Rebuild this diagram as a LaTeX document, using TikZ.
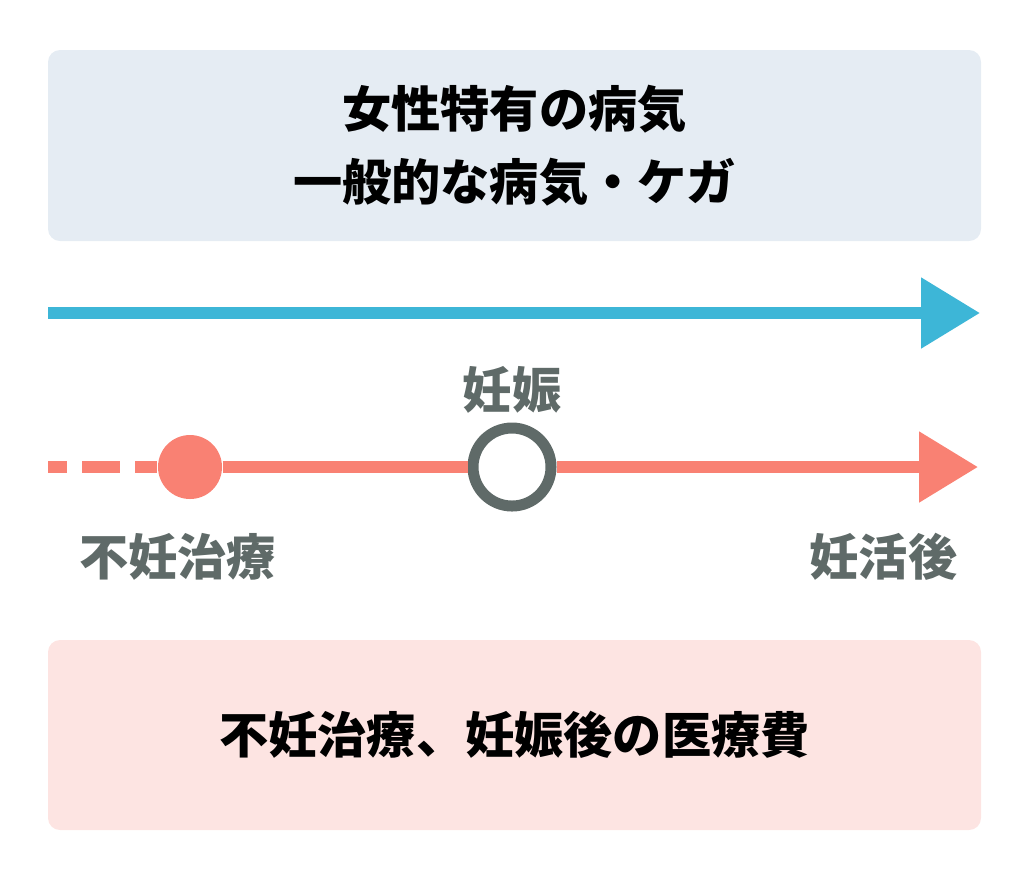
\documentclass[tikz,border=0pt]{standalone}
\usepackage{fontspec}
\usepackage{tikz}
\usetikzlibrary{arrows.meta}
\newfontfamily\cjk{Noto Sans CJK JP}
\definecolor{lineblue}{HTML}{3DB6D7}
\definecolor{linered}{HTML}{F98173}
\definecolor{labelgray}{HTML}{5F6A68}
\definecolor{boxblue}{HTML}{E5ECF3}
\definecolor{boxred}{HTML}{FDE4E2}
\tikzset{>={Triangle[length=0.59cm,width=0.68cm]}}

\begin{document}
\begin{tikzpicture}[font=\cjk\bfseries\fontsize{14pt}{20.8pt}\selectfont]
\useasboundingbox (0,0) rectangle (10.29,8.79);
% boxes
\begin{scope}[every node/.style={rounded corners=0.12cm,minimum width=9.33cm,inner sep=0pt,align=center}]
\node[fill=boxblue,minimum height=1.91cm] (top) at (5.145,7.335) {女性特有の病気\\一般的な病気・ケガ};
\node[fill=boxred,minimum height=1.90cm] (bottom) at (5.145,1.44) {不妊治療、妊娠後の医療費};
\end{scope}
% time lines
\coordinate (B0) at (0.48,5.66);
\coordinate (B1) at (9.80,5.66);
\coordinate (R0) at (0.48,4.12);
\coordinate (R1) at (9.78,4.12);
\begin{scope}[every node/.style={circle,inner sep=0pt}]
\node[fill=linered,minimum size=0.64cm] (ivf) at (1.90,4.12) {};
\node[draw=labelgray,line width=0.11cm,fill=white,minimum size=0.78cm] (preg) at (5.12,4.12) {};
\end{scope}
\begin{scope}[every node/.style={text=labelgray,inner sep=0pt}]
\node (pregl) at (5.12,4.89) {妊娠};
\node (ivfl) at (1.775,3.22) {不妊治療};
\node (afterl) at (8.835,3.22) {妊活後};
\end{scope}
\begin{scope}[line width=0.12cm]
\path [->] (B0) edge [lineblue] (B1);
\path [linered,dash pattern=on 0.38cm off 0.15cm,dash phase=0.19cm] (R0) edge (ivf);
\path [linered] (ivf) edge (preg);
\path [->] (preg) edge [linered] (R1);
\end{scope}
\end{tikzpicture}
\end{document}
